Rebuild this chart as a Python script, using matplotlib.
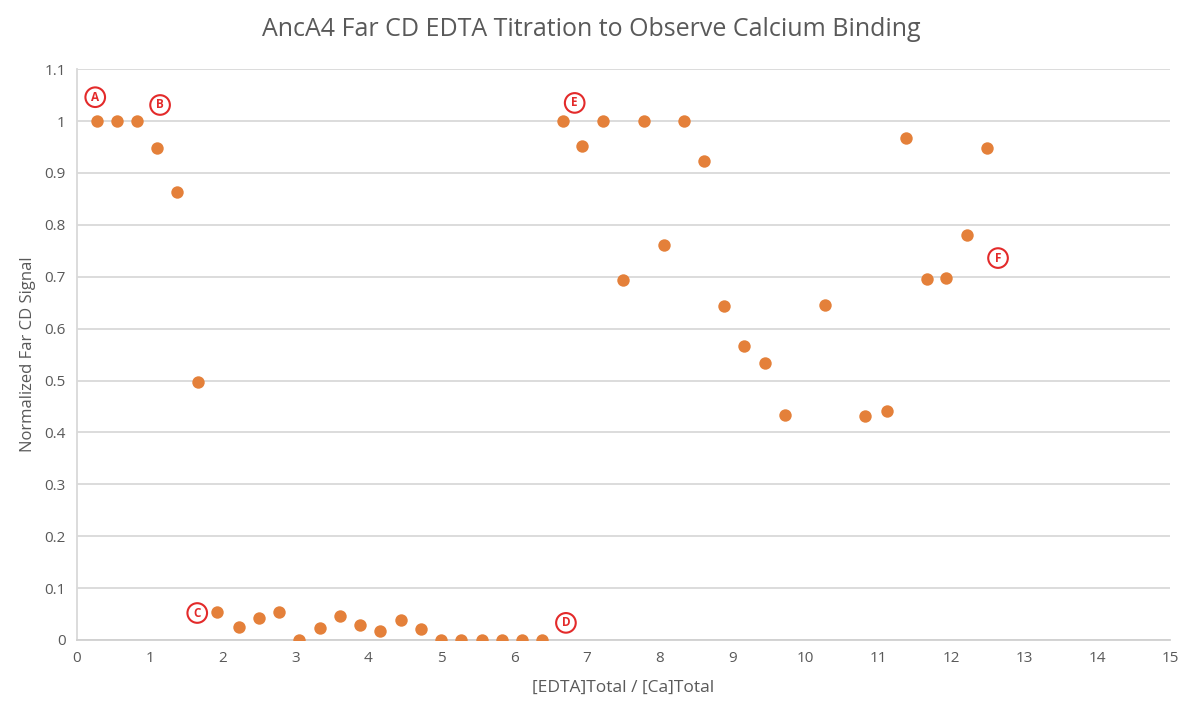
import matplotlib.pyplot as plt

# titration points: EDTA/Ca ratio vs normalized far-UV CD signal
ratio = [0.27, 0.55, 0.82, 1.10, 1.37, 1.66, 1.92, 2.22, 2.50, 2.77,
         3.05, 3.33, 3.61, 3.88, 4.16, 4.45, 4.72, 5.00, 5.27, 5.56,
         5.83, 6.11, 6.38, 6.67, 6.93, 7.22, 7.49, 7.78, 8.06, 8.33,
         8.60, 8.88, 9.15, 9.44, 9.72, 10.27, 10.82, 11.11, 11.38, 11.66,
         11.93, 12.21, 12.49]
signal = [1.0, 1.0, 1.0, 0.948, 0.863, 0.497, 0.054, 0.025, 0.042, 0.054,
          0.0, 0.023, 0.046, 0.029, 0.017, 0.039, 0.021, 0.0, 0.0, 0.0,
          0.0, 0.0, 0.0, 1.0, 0.952, 1.0, 0.693, 1.0, 0.761, 1.0,
          0.923, 0.643, 0.566, 0.533, 0.434, 0.645, 0.432, 0.442, 0.967, 0.696,
          0.698, 0.780, 0.949]

# hand-drawn markers
marks = ['A', 'B', 'C', 'D', 'E', 'F']
mark_x = [0.25, 1.14, 1.65, 6.71, 6.83, 12.64]
mark_y = [1.046, 1.031, 0.052, 0.033, 1.035, 0.736]

plt.rcParams['font.family'] = ['Open Sans', 'DejaVu Sans']

fig = plt.figure(figsize=(11.83, 7.06), dpi=100)
ax = fig.add_axes([0.0651, 0.0935, 0.9239, 0.8085])

ax.scatter(ratio, signal, s=80, color='#E4803A', zorder=3, linewidths=0)

for m, x, y in zip(marks, mark_x, mark_y):
    ax.text(x, y, m, color='#E32A2A', fontsize=8.5, fontweight='bold',
            ha='center', va='center',
            bbox=dict(boxstyle='circle,pad=0.28', fc='white', ec='#E32A2A', lw=1.5),
            zorder=4)

ax.set_xlim(0, 15)
ax.set_ylim(0, 1.1)
ax.set_xticks(range(16))
ax.set_yticks([i / 10 for i in range(12)])
ax.set_yticklabels(['0', '0.1', '0.2', '0.3', '0.4', '0.5', '0.6', '0.7',
                    '0.8', '0.9', '1', '1.1'])
ax.tick_params(length=0, labelsize=11, labelcolor='#595959', pad=8)
ax.grid(axis='y', color='#D9D9D9', linewidth=1.3)
ax.set_axisbelow(True)
for side in ['top', 'right']:
    ax.spines[side].set_visible(False)
ax.spines['left'].set_color('#D9D9D9')
ax.spines['bottom'].set_color('#D0D0D0')
ax.spines['left'].set_linewidth(1.3)
ax.spines['bottom'].set_linewidth(1.3)

# title centred on the whole figure
fig.suptitle('AncA4 Far CD EDTA Titration to Observe Calcium Binding',
             x=0.5, y=0.958, va='center', fontsize=18, color='#595959')
ax.set_xlabel('[EDTA]Total / [Ca]Total', fontsize=12.5, color='#595959', labelpad=10)
ax.set_ylabel('Normalized Far CD Signal', fontsize=12, color='#595959', labelpad=6)

fig.savefig('out.png', dpi=100)
